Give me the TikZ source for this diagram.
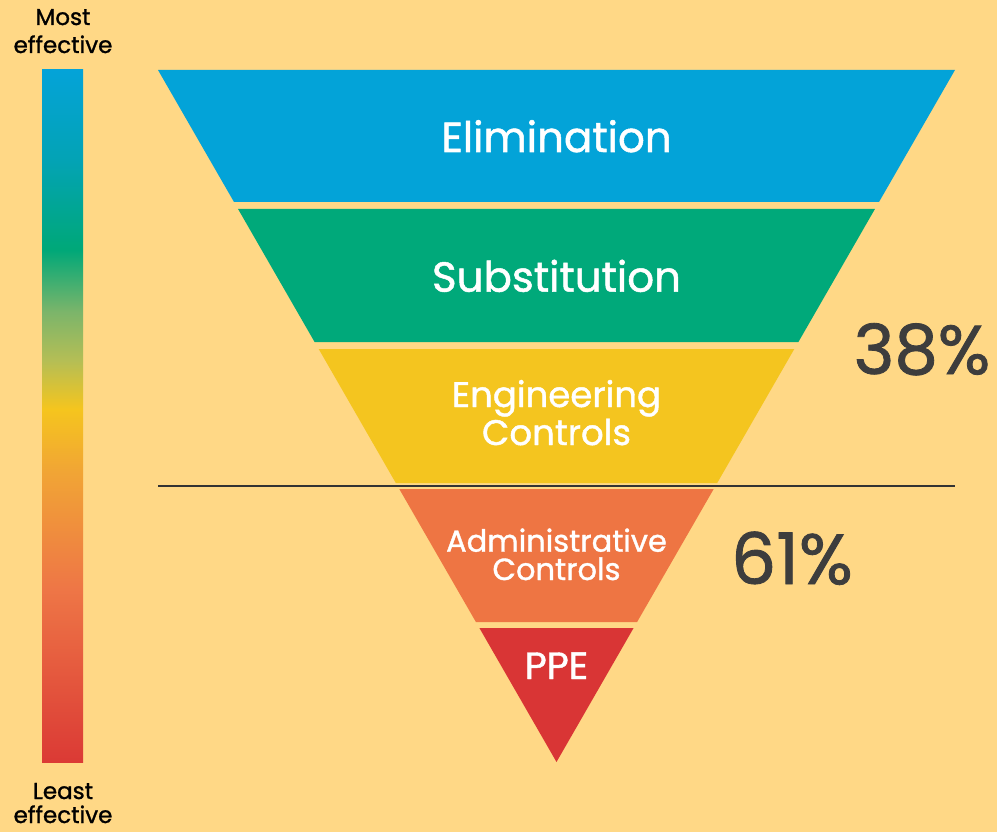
\documentclass[tikz,border=0pt]{standalone}
\usepackage{fontspec}
\setmainfont{Poppins}
\newfontfamily\medfont{Poppins}[FakeBold=1.2]
\usetikzlibrary{calc}
\definecolor{bg}{HTML}{FFD886}
\definecolor{cElim}{HTML}{03A3D8}
\definecolor{cSubs}{HTML}{00A97A}
\definecolor{cEng}{HTML}{F4C51F}
\definecolor{cAdm}{HTML}{EE7543}
\definecolor{cPPE}{HTML}{D93535}
\definecolor{cPct}{HTML}{3D3D3D}
\definecolor{cLine}{HTML}{333333}
\definecolor{g1}{HTML}{04A3D8}
\definecolor{g2}{HTML}{03A3B5}
\definecolor{g3}{HTML}{00A878}
\definecolor{g4}{HTML}{7CB56A}
\definecolor{g5}{HTML}{B5BE55}
\definecolor{g6}{HTML}{F5C51E}
\definecolor{g7}{HTML}{F1A535}
\definecolor{g8}{HTML}{EE7646}
\definecolor{g9}{HTML}{DB3A35}
\pgfdeclareverticalshading{effbar}{100bp}{color(0bp)=(g9); color(25bp)=(g9); color(37.5bp)=(g8); color(46bp)=(g7); color(50.5bp)=(g6); color(54bp)=(g5); color(57.5bp)=(g4); color(62bp)=(g3); color(68.5bp)=(g2); color(75bp)=(g1); color(100bp)=(g1)}
\tikzset{
  lbl/.style={text=white, anchor=base, inner sep=0pt},
  pct/.style={text=cPct, anchor=base, inner sep=0pt},
  side/.style={text=black, anchor=base, inner sep=0pt, font=\medfont\fontsize{23}{23}\selectfont},
}
\begin{document}
\begin{tikzpicture}[x=1pt,y=-1pt]
\fill[bg] (0,0) rectangle (997,832);
\useasboundingbox (0,0) rectangle (997,832);
% gradient bar
\shade[shading=effbar] (42,70) rectangle (83,762);
% funnel bands
\fill[cElim] (158,70) -- (955,70) -- (879.0,202) -- (234.0,202) -- cycle;
\fill[cSubs] (238.05,209) -- (874.95,209) -- (798.4,342) -- (314.6,342) -- cycle;
\fill[cEng] (318.7,349) -- (794.3,349) -- (717.2,483) -- (395.8,483) -- cycle;
\fill[cAdm] (399.3,489) -- (713.7,489) -- (637.1,622) -- (475.9,622) -- cycle;
\fill[cPPE] (479.4,628) -- (633.6,628) -- (556.5,762) -- cycle;
% divider
\coordinate (dl) at (158,485.5);
\coordinate (dr) at (955,485.5);
\draw[cLine, line width=2pt] (dl) -- (dr);
% labels
\node[lbl, font=\medfont\fontsize{42}{42}\selectfont] (elim) at (556.5,152) {Elimination};
\node[lbl, font=\medfont\fontsize{42}{42}\selectfont] (subs) at (556.5,291.7) {Substitution};
\node[lbl, font=\medfont\fontsize{35.5}{35.5}\selectfont] (eng1) at (556.5,407) {Engineering};
\node[lbl, font=\medfont\fontsize{35.5}{35.5}\selectfont] (eng2) at (556.5,445) {Controls};
\node[lbl, font=\medfont\fontsize{30.5}{30.5}\selectfont] (adm1) at (556.5,551.7) {Administrative};
\node[lbl, font=\medfont\fontsize{30.5}{30.5}\selectfont] (adm2) at (556.5,580) {Controls};
\node[lbl, font=\medfont\fontsize{38}{38}\selectfont] (ppe) at (556.5,679) {PPE};
\node[pct, font=\medfont\fontsize{69}{69}\selectfont] (p38) at (922,374) {38\%};
\node[pct, font=\medfont\fontsize{71}{71}\selectfont] (p61) at (792,584) {61\%};
\node[side] (most1) at (63,25) {Most};
\node[side] (most2) at (63,53) {effective};
\node[side] (least1) at (63,799) {Least};
\node[side] (least2) at (63,823) {effective};
\end{tikzpicture}
\end{document}
